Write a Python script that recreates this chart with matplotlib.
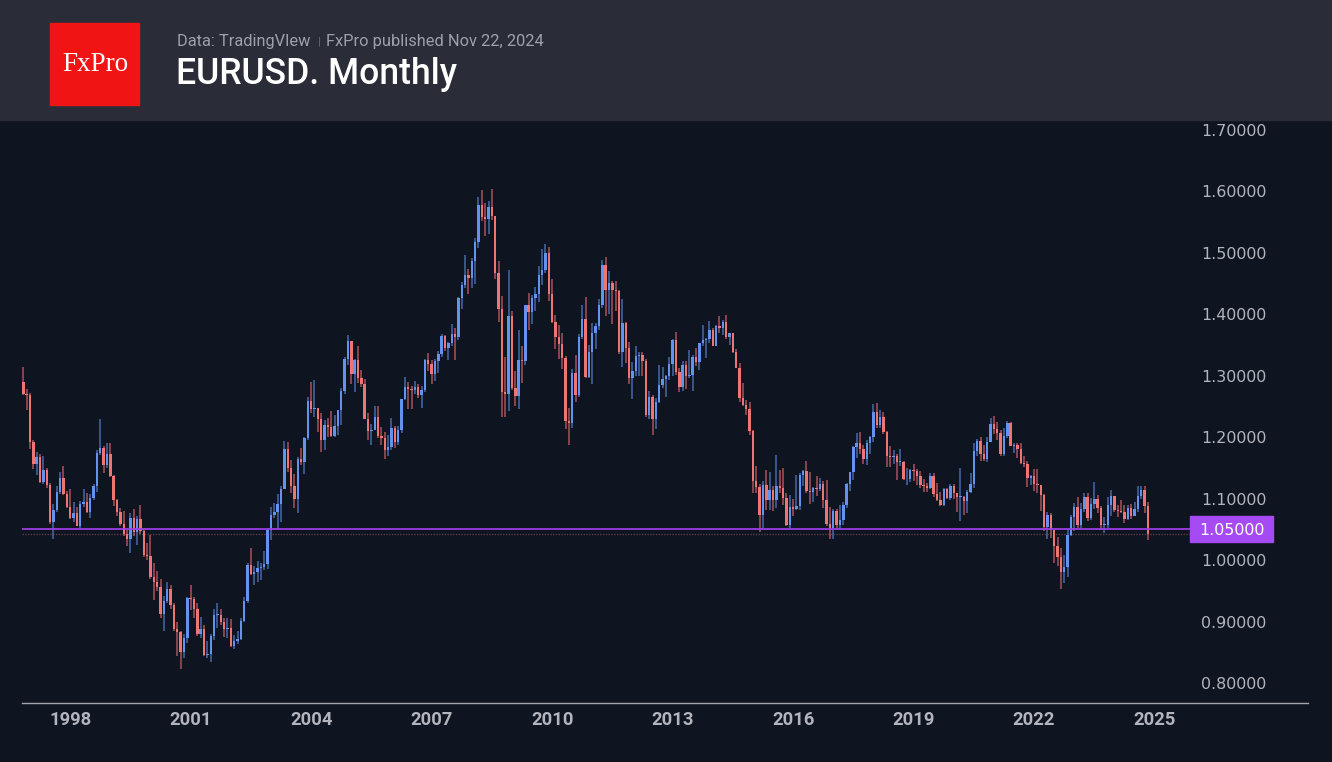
import numpy as np
import pandas as pd
import matplotlib
matplotlib.use('Agg')
import matplotlib.pyplot as plt
from matplotlib.patches import Rectangle
from matplotlib import transforms

# EURUSD monthly candles, Nov 1996 .. Nov 2024 (open = previous close)
first_open = 1.290

close = [
    1.2710, 1.2695,                                                                          # 1996 Nov-Dec
    1.1920, 1.1570, 1.1680, 1.1270, 1.1470, 1.1220, 1.0620, 1.0810, 1.1110, 1.1330, 1.1080, 1.0870,  # 1997
    1.0690, 1.0770, 1.0560, 1.0910, 1.0950, 1.0780, 1.1010, 1.1210, 1.1740, 1.1830, 1.1540, 1.1730,  # 1998
    1.1371, 1.0985, 1.0776, 1.0582, 1.0422, 1.0349, 1.0689, 1.0464, 1.0661, 1.0478, 1.0080, 1.0070,  # 1999
    0.9718, 0.9641, 0.9565, 0.9123, 0.9340, 0.9527, 0.9262, 0.8879, 0.8829, 0.8500, 0.8727, 0.9388,  # 2000
    0.9365, 0.9204, 0.8794, 0.8872, 0.8450, 0.8476, 0.8759, 0.9106, 0.9114, 0.9000, 0.8882, 0.8900,  # 2001
    0.8596, 0.8679, 0.8717, 0.9011, 0.9338, 0.9916, 0.9774, 0.9810, 0.9865, 0.9883, 0.9931, 1.0487,  # 2002
    1.0732, 1.0782, 1.0910, 1.1165, 1.1812, 1.1506, 1.1211, 1.0989, 1.1648, 1.1603, 1.1980, 1.2597,  # 2003
    1.2465, 1.2478, 1.2296, 1.1962, 1.2201, 1.2166, 1.2026, 1.2178, 1.2437, 1.2749, 1.3266, 1.3558,  # 2004
    1.3035, 1.3253, 1.2960, 1.2868, 1.2295, 1.2096, 1.2121, 1.2337, 1.2021, 1.1993, 1.1788, 1.1842,  # 2005
    1.2157, 1.1926, 1.2118, 1.2623, 1.2817, 1.2791, 1.2766, 1.2814, 1.2680, 1.2762, 1.3256, 1.3199,  # 2006
    1.3026, 1.3237, 1.3354, 1.3652, 1.3449, 1.3534, 1.3684, 1.3634, 1.4265, 1.4484, 1.4637, 1.4587,  # 2007
    1.4861, 1.5184, 1.5787, 1.5592, 1.5553, 1.5748, 1.5600, 1.4672, 1.4091, 1.2732, 1.2703, 1.3970,  # 2008
    1.2799, 1.2667, 1.3249, 1.3234, 1.4149, 1.4032, 1.4260, 1.4335, 1.4637, 1.4716, 1.5000, 1.4327,  # 2009
    1.3869, 1.3628, 1.3510, 1.3295, 1.2271, 1.2231, 1.3049, 1.2681, 1.3633, 1.3925, 1.2984, 1.3380,  # 2010
    1.3696, 1.3805, 1.4160, 1.4806, 1.4399, 1.4502, 1.4394, 1.4376, 1.3390, 1.3865, 1.3457, 1.2960,  # 2011
    1.3081, 1.3324, 1.3344, 1.3236, 1.2364, 1.2661, 1.2302, 1.2577, 1.2858, 1.2955, 1.2989, 1.3192,  # 2012
    1.3578, 1.3061, 1.2818, 1.3168, 1.2997, 1.3010, 1.3302, 1.3223, 1.3527, 1.3582, 1.3591, 1.3743,  # 2013
    1.3486, 1.3805, 1.3771, 1.3869, 1.3633, 1.3692, 1.3389, 1.3133, 1.2631, 1.2525, 1.2452, 1.2098,  # 2014
    1.1290, 1.1197, 1.0731, 1.1223, 1.0986, 1.1146, 1.0984, 1.1211, 1.1177, 1.1005, 1.0566, 1.0862,  # 2015
    1.0830, 1.0873, 1.1380, 1.1453, 1.1131, 1.1106, 1.1174, 1.1158, 1.1240, 1.0980, 1.0588, 1.0517,  # 2016
    1.0798, 1.0575, 1.0652, 1.0895, 1.1240, 1.1426, 1.1842, 1.1909, 1.1813, 1.1647, 1.1904, 1.2005,  # 2017
    1.2413, 1.2192, 1.2324, 1.2078, 1.1691, 1.1684, 1.1690, 1.1601, 1.1604, 1.1312, 1.1315, 1.1467,  # 2018
    1.1446, 1.1372, 1.1217, 1.1214, 1.1169, 1.1370, 1.1076, 1.0985, 1.0899, 1.1152, 1.1016, 1.1213,  # 2019
    1.1093, 1.1027, 1.1031, 1.0955, 1.1101, 1.1234, 1.1778, 1.1936, 1.1720, 1.1647, 1.1925, 1.2216,  # 2020
    1.2137, 1.2074, 1.1730, 1.2019, 1.2226, 1.1858, 1.1869, 1.1806, 1.1580, 1.1558, 1.1338, 1.1370,  # 2021
    1.1234, 1.1218, 1.1067, 1.0545, 1.0734, 1.0483, 1.0222, 1.0054, 0.9802, 0.9884, 1.0406, 1.0705,  # 2022
    1.0863, 1.0576, 1.0839, 1.1020, 1.0689, 1.0910, 1.0998, 1.0843, 1.0573, 1.0576, 1.0890, 1.1039,  # 2023
    1.0818, 1.0805, 1.0790, 1.0666, 1.0848, 1.0713, 1.0826, 1.1049, 1.1135, 1.0884, 1.0418,          # 2024
]

high = [
    1.3150, 1.2790,
    1.2720, 1.1960, 1.1760, 1.1720, 1.1700, 1.1500, 1.1250, 1.0920, 1.1200, 1.1430, 1.1530, 1.1130,
    1.1160, 1.0940, 1.0870, 1.0970, 1.1150, 1.1090, 1.1080, 1.1240, 1.1790, 1.2300, 1.1860, 1.1900,
    1.1904, 1.1385, 1.1000, 1.0850, 1.0800, 1.0510, 1.0770, 1.0830, 1.0720, 1.0890, 1.0530, 1.0285,
    1.0410, 0.9950, 0.9825, 0.9700, 0.9410, 0.9640, 0.9600, 0.9300, 0.9000, 0.8850, 0.8800, 0.9400,
    0.9593, 0.9400, 0.9300, 0.9080, 0.8950, 0.8690, 0.8800, 0.9200, 0.9300, 0.9200, 0.9050, 0.9060,
    0.9040, 0.8780, 0.8840, 0.9060, 0.9400, 0.9950, 1.0200, 0.9900, 0.9980, 0.9960, 1.0150, 1.0500,
    1.0870, 1.0930, 1.1080, 1.1200, 1.1935, 1.1930, 1.1630, 1.1400, 1.1680, 1.1830, 1.2000, 1.2650,
    1.2900, 1.2930, 1.2480, 1.2400, 1.2280, 1.2320, 1.2420, 1.2360, 1.2440, 1.2800, 1.3300, 1.3667,
    1.3570, 1.3270, 1.3480, 1.3100, 1.2940, 1.2400, 1.2220, 1.2500, 1.2500, 1.2160, 1.2080, 1.2040,
    1.2320, 1.2180, 1.2180, 1.2630, 1.2980, 1.2900, 1.2830, 1.2910, 1.2870, 1.2840, 1.3280, 1.3370,
    1.3260, 1.3270, 1.3400, 1.3680, 1.3670, 1.3550, 1.3850, 1.3780, 1.4280, 1.4530, 1.4970, 1.4740,
    1.4920, 1.5240, 1.5904, 1.6019, 1.5820, 1.5840, 1.6038, 1.5600, 1.4870, 1.4300, 1.3300, 1.4720,
    1.4050, 1.3080, 1.3740, 1.3480, 1.4160, 1.4340, 1.4310, 1.4450, 1.4780, 1.5060, 1.5144, 1.5100,
    1.4580, 1.3990, 1.3820, 1.3690, 1.3320, 1.2480, 1.3110, 1.3330, 1.3680, 1.4160, 1.4280, 1.3500,
    1.3860, 1.3860, 1.4250, 1.4880, 1.4940, 1.4700, 1.4540, 1.4550, 1.4390, 1.4250, 1.3870, 1.3550,
    1.3230, 1.3490, 1.3380, 1.3380, 1.3280, 1.2750, 1.2680, 1.2640, 1.3170, 1.3140, 1.3010, 1.3310,
    1.3600, 1.3710, 1.3120, 1.3240, 1.3240, 1.3420, 1.3340, 1.3450, 1.3540, 1.3830, 1.3620, 1.3890,
    1.3770, 1.3820, 1.3970, 1.3910, 1.3993, 1.3700, 1.3700, 1.3440, 1.3200, 1.2890, 1.2600, 1.2570,
    1.2110, 1.1530, 1.1240, 1.1290, 1.1470, 1.1440, 1.1210, 1.1714, 1.1460, 1.1500, 1.1100, 1.1060,
    1.0990, 1.1380, 1.1410, 1.1460, 1.1616, 1.1430, 1.1190, 1.1370, 1.1330, 1.1280, 1.1300, 1.0870,
    1.0830, 1.0830, 1.0900, 1.0950, 1.1260, 1.1440, 1.1850, 1.2070, 1.2090, 1.1880, 1.1960, 1.2020,
    1.2537, 1.2555, 1.2450, 1.2410, 1.2100, 1.1850, 1.1790, 1.1730, 1.1815, 1.1620, 1.1500, 1.1490,
    1.1570, 1.1490, 1.1450, 1.1320, 1.1260, 1.1410, 1.1410, 1.1250, 1.1110, 1.1180, 1.1180, 1.1240,
    1.1240, 1.1100, 1.1495, 1.1040, 1.1140, 1.1420, 1.1910, 1.1970, 1.2010, 1.1880, 1.2000, 1.2310,
    1.2349, 1.2240, 1.2110, 1.2150, 1.2266, 1.2250, 1.1910, 1.1900, 1.1910, 1.1690, 1.1610, 1.1380,
    1.1480, 1.1490, 1.1230, 1.1080, 1.0790, 1.0770, 1.0490, 1.0370, 1.0200, 1.0090, 1.0500, 1.0740,
    1.0930, 1.1030, 1.0930, 1.1100, 1.1090, 1.1010, 1.1276, 1.1060, 1.0880, 1.0700, 1.1020, 1.1140,
    1.1050, 1.0890, 1.0980, 1.0890, 1.0900, 1.0920, 1.0950, 1.1200, 1.1214, 1.1210, 1.0940,
]

low = [
    1.2680, 1.2440,
    1.1810, 1.1490, 1.1380, 1.1250, 1.1240, 1.1180, 1.0590, 1.0350, 1.0780, 1.1080, 1.1060, 1.0850,
    1.0670, 1.0620, 1.0550, 1.0530, 1.0870, 1.0770, 1.0680, 1.0980, 1.1110, 1.1710, 1.1410, 1.1500,
    1.1355, 1.0883, 1.0715, 1.0550, 1.0400, 1.0237, 1.0118, 1.0400, 1.0250, 1.0420, 1.0050, 1.0000,
    0.9700, 0.9350, 0.9500, 0.9050, 0.8844, 0.9300, 0.9200, 0.8840, 0.8440, 0.8228, 0.8400, 0.8650,
    0.9180, 0.9060, 0.8760, 0.8740, 0.8440, 0.8400, 0.8344, 0.8700, 0.8900, 0.8950, 0.8750, 0.8730,
    0.8580, 0.8560, 0.8630, 0.8700, 0.8990, 0.9300, 0.9750, 0.9600, 0.9640, 0.9680, 0.9840, 0.9860,
    1.0330, 1.0690, 1.0500, 1.0620, 1.1150, 1.1430, 1.1100, 1.0850, 1.0770, 1.1540, 1.1400, 1.1950,
    1.2390, 1.2330, 1.2080, 1.1760, 1.1800, 1.2000, 1.2000, 1.2000, 1.2030, 1.2200, 1.2700, 1.3170,
    1.2860, 1.2730, 1.2880, 1.2810, 1.2290, 1.1950, 1.1870, 1.2110, 1.1990, 1.1870, 1.1640, 1.1700,
    1.1800, 1.1820, 1.1870, 1.2070, 1.2600, 1.2460, 1.2460, 1.2710, 1.2640, 1.2480, 1.2740, 1.3070,
    1.2860, 1.2920, 1.3050, 1.3310, 1.3400, 1.3250, 1.3480, 1.3260, 1.3580, 1.4080, 1.4430, 1.4330,
    1.4430, 1.4500, 1.5080, 1.5520, 1.5280, 1.5300, 1.5530, 1.4580, 1.3880, 1.2330, 1.2329, 1.2420,
    1.2770, 1.2510, 1.2457, 1.2890, 1.3170, 1.3750, 1.3850, 1.4050, 1.4200, 1.4480, 1.4680, 1.4220,
    1.3860, 1.3440, 1.3270, 1.3110, 1.2140, 1.1876, 1.2150, 1.2580, 1.2650, 1.3600, 1.2970, 1.2970,
    1.2870, 1.3440, 1.3750, 1.4100, 1.3970, 1.4000, 1.3840, 1.4050, 1.3360, 1.3146, 1.3210, 1.2860,
    1.2624, 1.3000, 1.3000, 1.3000, 1.2330, 1.2290, 1.2042, 1.2130, 1.2560, 1.2800, 1.2660, 1.2930,
    1.3000, 1.3020, 1.2740, 1.2750, 1.2790, 1.2960, 1.2750, 1.3160, 1.3100, 1.3490, 1.3290, 1.3540,
    1.3480, 1.3480, 1.3700, 1.3670, 1.3600, 1.3500, 1.3370, 1.3120, 1.2570, 1.2500, 1.2360, 1.2030,
    1.1100, 1.1100, 1.0458, 1.0520, 1.0820, 1.0820, 1.0800, 1.0850, 1.1100, 1.0900, 1.0560, 1.0520,
    1.0710, 1.0810, 1.0820, 1.1210, 1.1100, 1.0910, 1.0950, 1.1040, 1.1120, 1.0850, 1.0550, 1.0340,
    1.0340, 1.0500, 1.0500, 1.0570, 1.0840, 1.1120, 1.1310, 1.1660, 1.1720, 1.1570, 1.1550, 1.1720,
    1.1920, 1.2150, 1.2150, 1.2060, 1.1510, 1.1510, 1.1570, 1.1300, 1.1530, 1.1300, 1.1215, 1.1270,
    1.1290, 1.1230, 1.1180, 1.1110, 1.1110, 1.1160, 1.1030, 1.0960, 1.0880, 1.0880, 1.0990, 1.0980,
    1.0990, 1.0780, 1.0636, 1.0730, 1.0770, 1.1100, 1.1180, 1.1700, 1.1610, 1.1620, 1.1600, 1.1920,
    1.2050, 1.1950, 1.1700, 1.1700, 1.1990, 1.1850, 1.1750, 1.1660, 1.1560, 1.1520, 1.1185, 1.1220,
    1.1120, 1.1100, 1.0800, 1.0470, 1.0350, 1.0360, 0.9950, 0.9900, 0.9536, 0.9630, 0.9730, 1.0390,
    1.0480, 1.0530, 1.0520, 1.0790, 1.0640, 1.0660, 1.0830, 1.0770, 1.0490, 1.0448, 1.0520, 1.0720,
    1.0790, 1.0700, 1.0770, 1.0600, 1.0650, 1.0670, 1.0710, 1.0780, 1.0990, 1.0760, 1.0335,
]

year_labels = ['1998', '2001', '2004', '2007', '2010', '2013', '2016', '2019', '2022', '2025']
price_ticks = [0.8, 0.9, 1.0, 1.1, 1.2, 1.3, 1.4, 1.5, 1.6, 1.7]
level = 1.05

title = 'EURUSD. Monthly'
source = 'Data: TradingVIew'
published = 'FxPro published Nov 22, 2024'

# colours
BG = '#0e1420'
HEADER = '#2a2d38'
UP, DOWN = '#6393ee', '#ef7474'
UP_WICK, DOWN_WICK = '#4668a8', '#ad525b'
TXT = '#b2b5be'
PURPLE = '#a64bf4'

W, H = 1332, 762
months = pd.period_range('1996-11', periods=len(close), freq='M')
x = np.arange(len(close))
c = np.array(close)
o = np.r_[first_open, c[:-1]]
hi = np.array(high)
lo = np.array(low)
up = c >= o

fig = plt.figure(figsize=(W / 100, H / 100), dpi=100, facecolor=BG)

# header band + logo
fig.patches.append(Rectangle((0, 1 - 120 / H), 1, 120 / H, transform=fig.transFigure,
                             color=HEADER, zorder=0))
fig.patches.append(Rectangle((50 / W, 1 - 105 / H), 89 / W, 82 / H, transform=fig.transFigure,
                             color='#f01414', zorder=1))
fig.text(95 / W, 1 - 71 / H, 'FxPro', family='Liberation Serif', size=19.5,
         color='white', ha='center', va='baseline')
fig.text(177 / W, 1 - 46 / H, source, family='Roboto', size=11.8, color='#9ea1a9', va='baseline')
fig.text(319 / W, 1 - 45 / H, '|', family='Roboto', size=8, color='#6f727b', ha='center', va='baseline')
fig.text(326 / W, 1 - 46 / H, published, family='Roboto', size=11.8, color='#9ea1a9', va='baseline')
fig.text(176 / W, 1 - 84 / H, title, family='Roboto', size=25.6, weight='medium',
         color='white', va='baseline')

# chart area (pixel layout: x 22..1308, y 120..703)
px_per_month = 3.347
x0 = 23.3
ax = fig.add_axes([22 / W, (H - 703) / H, 1286 / W, 583 / H])
ax.set_facecolor(BG)
ax.set_xlim((22 - x0) / px_per_month, (1308 - x0) / px_per_month)
ax.set_ylim(0.80 - 20 / 614, 1.70 + 10 / 614)

# candles
ax.vlines(x, lo, hi, colors=np.where(up, UP_WICK, DOWN_WICK), linewidth=1.1, zorder=2)
body_h = np.maximum(np.abs(c - o), 0.0016)
ax.bar(x, body_h, bottom=np.minimum(o, c), width=0.72,
       color=np.where(up, UP, DOWN), linewidth=0, zorder=3)

# level line and last price
x_plot_end = (1190 - x0) / px_per_month
ax.hlines(level, ax.get_xlim()[0], x_plot_end, color='#9c3fe6', linewidth=1.3, zorder=4)
ax.hlines(c[-1], ax.get_xlim()[0], x_plot_end, color='#5a3e4c', linewidth=1.0,
          linestyles=(0, (1, 1)), zorder=1)

blend = transforms.blended_transform_factory(fig.transFigure, ax.transData)
ax.add_patch(Rectangle((1190 / W, level - 13 / 614), 83 / W, 26 / 614, transform=blend,
                       color=PURPLE, clip_on=False, zorder=5))
ax.text(1231.5 / W, level, f'{level:.5f}', transform=blend, ha='center', va='center_baseline',
        family='DejaVu Sans', size=11.4, color='white', zorder=6)

# axes styling
for s in ['top', 'left', 'right']:
    ax.spines[s].set_visible(False)
ax.spines['bottom'].set_color('#a3a6ae')
ax.spines['bottom'].set_linewidth(1.0)

jan_idx = [(pd.Period(f'{y}-01', 'M') - months[0]).n for y in year_labels]
ax.set_xticks(jan_idx)
ax.set_xticklabels(year_labels)
ax.tick_params(axis='x', length=0, pad=6, labelsize=13.2, labelcolor=TXT)
for t in ax.get_xticklabels():
    t.set_family('Roboto')
    t.set_weight('bold')

ax.yaxis.tick_right()
ax.set_yticks(price_ticks)
ax.set_yticklabels([f'{p:.5f}' for p in price_ticks])
ax.tick_params(axis='y', length=0, pad=-(1308 - 1201) * 0.72, labelsize=11.4, labelcolor=TXT)
for t in ax.get_yticklabels():
    t.set_family('DejaVu Sans')
    t.set_horizontalalignment('left')

fig.savefig('out.png', dpi=100, facecolor=BG)
